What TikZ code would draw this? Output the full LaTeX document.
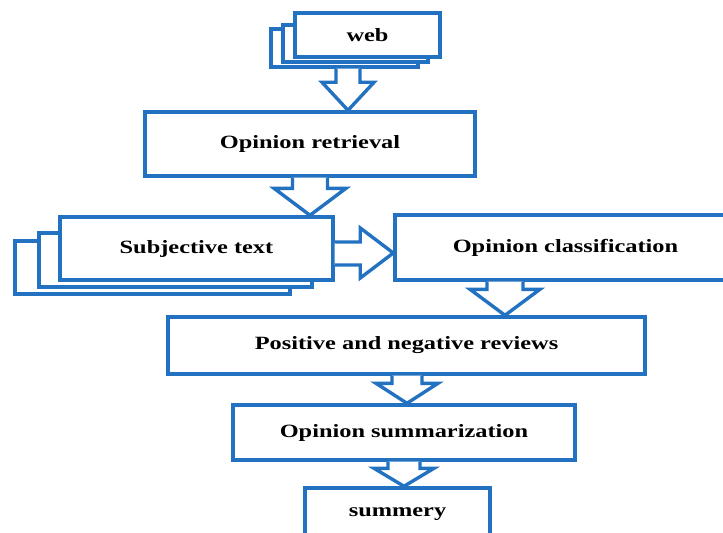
\documentclass[tikz,border=0pt]{standalone}
\usepackage{fontspec}
\setmainfont{Liberation Serif}[FakeStretch=1.3]
\usepackage{tikz}
\usetikzlibrary{calc}

\definecolor{boxblue}{RGB}{35,114,193}

\tikzset{
  box/.style={draw=boxblue, line width=2.9pt, fill=white, rectangle,
    inner sep=0pt, font=\bfseries\fontsize{16}{19}\selectfont},
  flow/.style={draw=boxblue, line width=2.9pt, fill=white}
}

% hollow block arrow pointing down: tip x, shaft half, head half, head length, from, to
\newcommand{\hollowdown}[6]{%
  \draw[flow] (#1-#2,0 |- #5.south) -- ($(#1-#2,0 |- #6.north)+(0,-#4)$)
    -- ($(#1-#3,0 |- #6.north)+(0,-#4)$) -- (#1,0 |- #6.north)
    -- ($(#1+#3,0 |- #6.north)+(0,-#4)$) -- ($(#1+#2,0 |- #6.north)+(0,-#4)$)
    -- (#1+#2,0 |- #5.south);}

\begin{document}
\begin{tikzpicture}[x=0.03cm, y=-0.03cm]
        \useasboundingbox (0,0) rectangle (723,533);
        \clip (0,0) rectangle (723,533);

        % Web, as a stack of pages.
        \node[box, minimum width=4.41cm, minimum height=1.14cm] (web3) at (344.5,48) {};
        \node[box, minimum width=4.35cm, minimum height=1.11cm] (web2) at (355.5,43.5) {};
        \node[box, minimum width=4.35cm, minimum height=1.32cm] (web) at (367.5,35) {web};

        % Retrieval step.
        \node[box, minimum width=9.9cm, minimum height=1.92cm] (retrieval) at (310,144) {Opinion retrieval};
        \hollowdown{348}{12}{26}{28}{web3}{retrieval}

        % Subjective text, as a stack of pages.
        \node[box, minimum width=8.25cm, minimum height=1.59cm] (subj3) at (152.5,267.5) {};
        \node[box, minimum width=8.19cm, minimum height=1.62cm] (subj2) at (175.5,260) {};
        \node[box, minimum width=8.19cm, minimum height=1.89cm] (subj) at (196.5,248.5) {Subjective text};
        \hollowdown{310}{17.5}{36}{27}{retrieval}{subj}

        % Classification step.
        \node[box, minimum width=10.23cm, minimum height=1.95cm] (classif) at (565.5,247.5) {Opinion classification};
        \draw[flow] (subj.east |- 0,242) -- ($(classif.west |- 0,242)+(-33,0)$)
          -- ($(classif.west |- 0,228)+(-33,0)$) -- (classif.west |- 0,253)
          -- ($(classif.west |- 0,278)+(-33,0)$) -- ($(classif.west |- 0,265)+(-33,0)$)
          -- (subj.east |- 0,265);

        % Reviews, summarization and summary.
        \node[box, minimum width=14.31cm, minimum height=1.71cm] (reviews) at (406.5,345.5) {Positive and negative reviews};
        \hollowdown{505}{18}{35}{26}{classif}{reviews}

        \node[box, minimum width=10.26cm, minimum height=1.65cm] (summ) at (404,432.5) {Opinion summarization};
        \hollowdown{407}{15}{31}{20}{reviews}{summ}

        \node[box, minimum width=5.55cm, minimum height=1.56cm] (summery) at (397.5,514) {summery};
        \hollowdown{404}{16}{30}{18}{summ}{summery}
      \end{tikzpicture}
\end{document}
